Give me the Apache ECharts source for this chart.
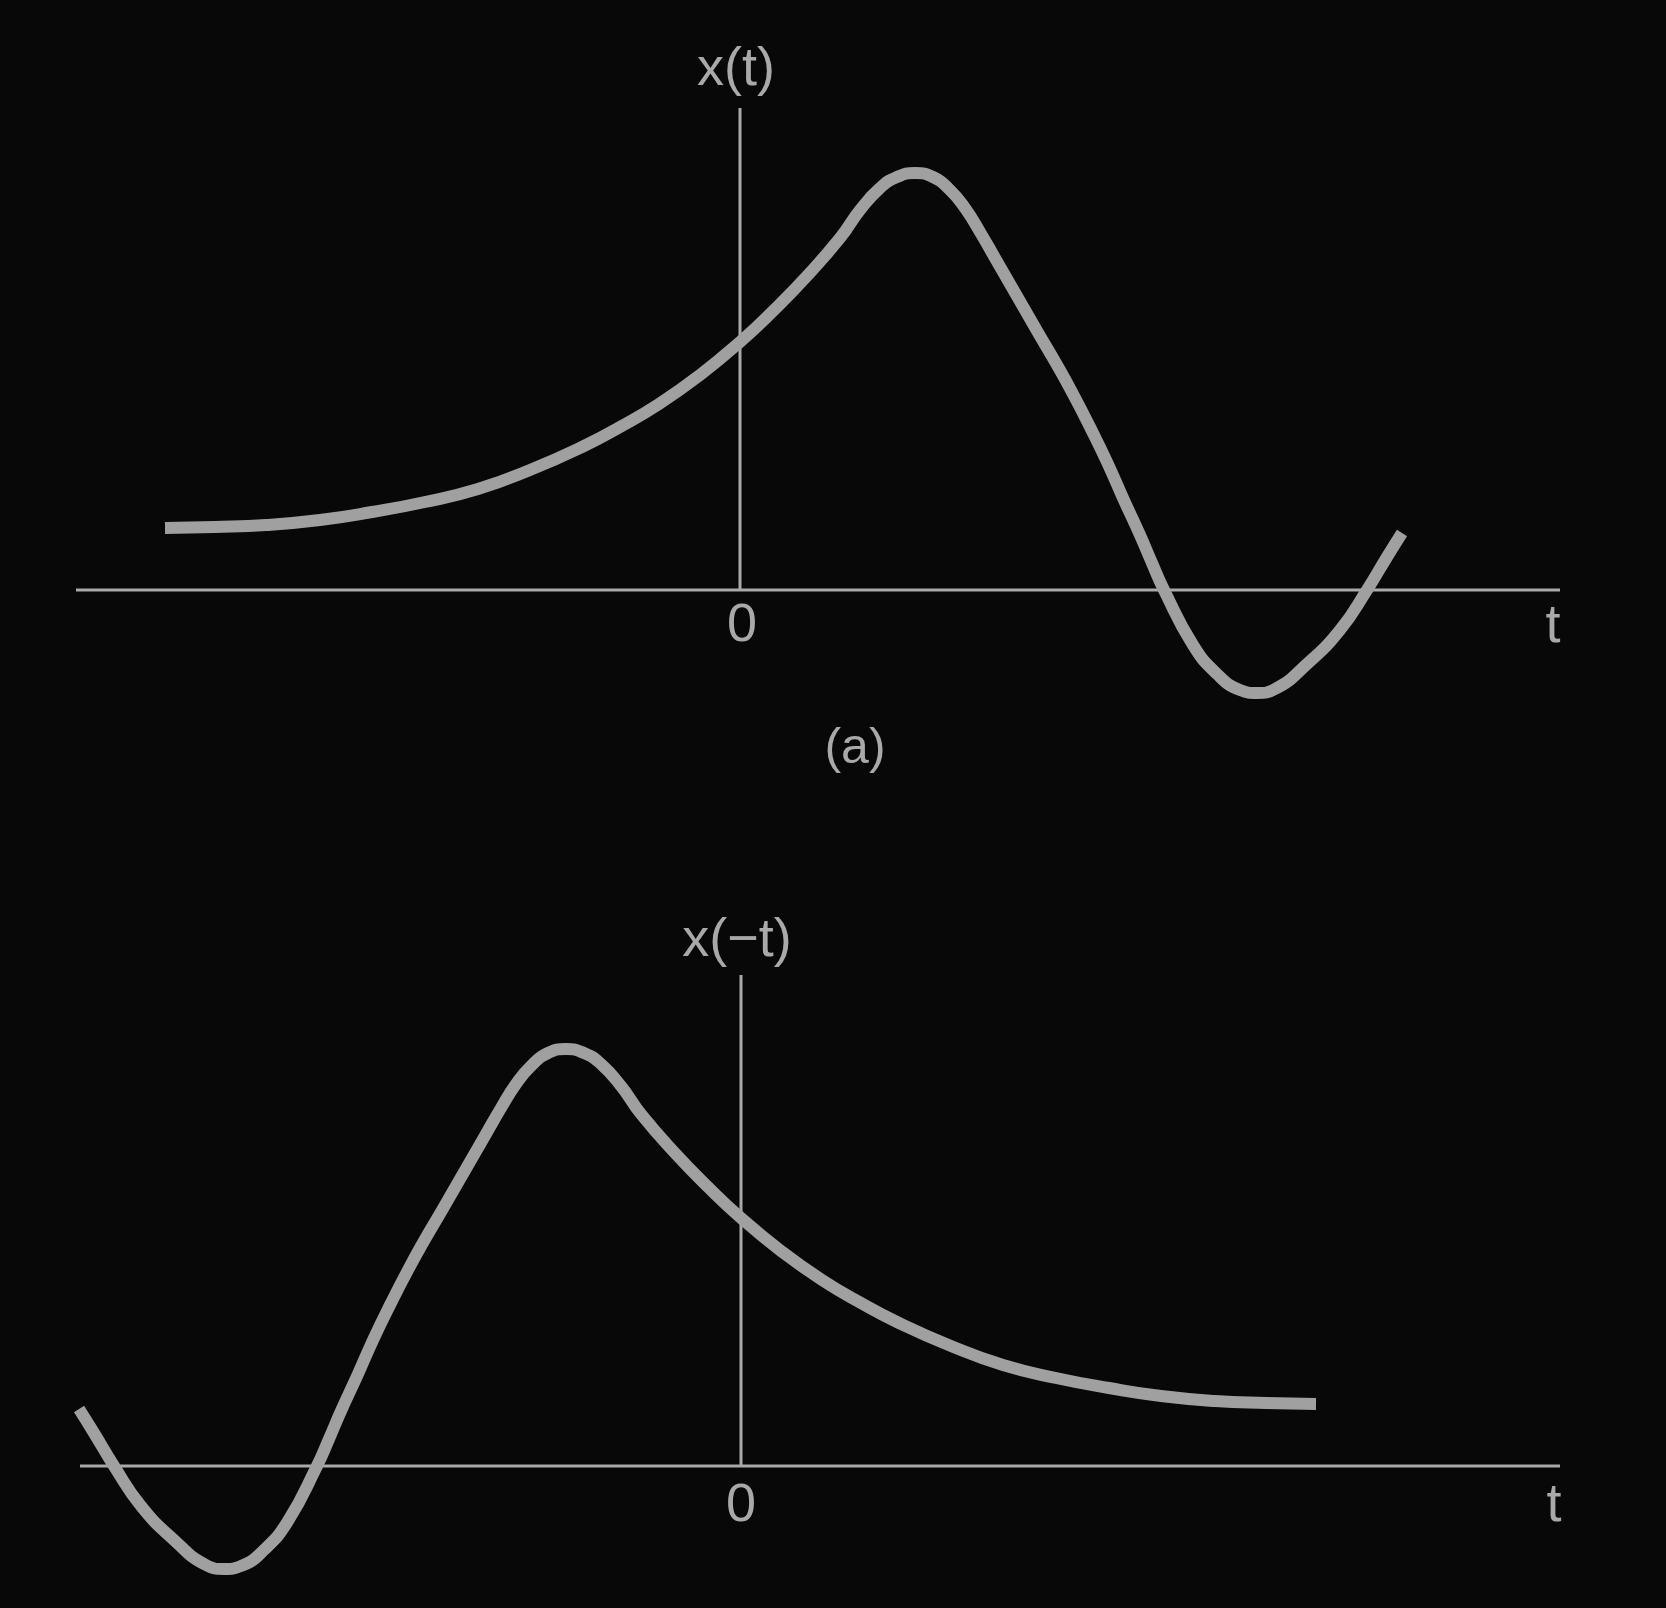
<!DOCTYPE html>
<html>
<head>
<meta charset="utf-8">
<script src="https://cdn.jsdelivr.net/npm/echarts@6/dist/echarts.min.js"></script>
<style>
html,body{margin:0;padding:0;background:#080808;}
#chart{width:1666px;height:1608px;}
</style>
</head>
<body>
<div id="chart"></div>
<script>
const tTop = [-5.75, -5.25, -4.74, -4.20, -3.68, -3.15, -2.62, -2.10, -1.56, -1.20, -0.81, -0.40, 0, 0.33, 0.67, 1.00, 1.20, 1.40, 1.57, 1.75, 1.93, 2.10, 2.25, 2.40, 2.55, 2.70, 2.85, 3.00, 3.17, 3.33, 3.50, 3.67, 3.83, 4.00, 4.12, 4.24, 4.53, 4.77, 5.00, 5.17, 5.35, 5.67, 6.00, 6.27, 6.47, 6.62];
const xTop = [0.62, 0.63, 0.65, 0.70, 0.78, 0.88, 1.01, 1.20, 1.44, 1.63, 1.86, 2.15, 2.48, 2.79, 3.14, 3.52, 3.80, 4.02, 4.13, 4.17, 4.13, 4.00, 3.82, 3.58, 3.32, 3.06, 2.80, 2.54, 2.25, 1.96, 1.63, 1.28, 0.92, 0.55, 0.27, 0, -0.55, -0.84, -1.00, -1.03, -0.99, -0.74, -0.40, 0, 0.33, 0.57];
// x(-t): the reflected signal
const tBot = [-6.62, -6.47, -6.27, -6.00, -5.67, -5.35, -5.17, -5.00, -4.77, -4.53, -4.24, -4.12, -4.00, -3.83, -3.67, -3.50, -3.33, -3.17, -3.00, -2.85, -2.70, -2.55, -2.40, -2.25, -2.10, -1.93, -1.75, -1.57, -1.40, -1.20, -1.00, -0.67, -0.33, 0, 0.40, 0.81, 1.20, 1.56, 2.10, 2.62, 3.15, 3.68, 4.20, 4.74, 5.25, 5.75];
const xBot = [0.57, 0.33, 0, -0.40, -0.74, -0.99, -1.03, -1.00, -0.84, -0.55, 0, 0.27, 0.55, 0.92, 1.28, 1.63, 1.96, 2.25, 2.54, 2.80, 3.06, 3.32, 3.58, 3.82, 4.00, 4.13, 4.17, 4.13, 4.02, 3.80, 3.52, 3.14, 2.79, 2.48, 2.15, 1.86, 1.63, 1.44, 1.20, 1.01, 0.88, 0.78, 0.70, 0.65, 0.63, 0.62];
// axis extents
const topX = [-6.64, 8.20], topY = [-1.2, 4.82];
const botX = [-6.61, 8.19], botY = [-1.2, 4.91];
const labels = {top: 'x(t)', bottom: 'x(\u2212t)', zero: '0', t: 't', caption: '(a)'};

const curveColor = '#a0a0a0';
const axisColor = '#a9a9a9';
const font = '"Liberation Sans", Arial, sans-serif';

function pairs(ts, vs){ return ts.map((t,i)=>[t, vs[i]]); }

const chart = echarts.init(document.getElementById('chart'), null, {renderer:'canvas'});

function axisSeries(idx, xr, yr){
  return [
    {type:'line', xAxisIndex:idx, yAxisIndex:idx, data:[[xr[0],0],[xr[1],0]], symbol:'none', silent:true, animation:false,
     lineStyle:{color:axisColor, width:3}, z:1},
    {type:'line', xAxisIndex:idx, yAxisIndex:idx, data:[[0,0],[0,yr[1]]], symbol:'none', silent:true, animation:false,
     lineStyle:{color:axisColor, width:3}, z:1}
  ];
}
function curveSeries(idx, ts, vs){
  return {type:'line', xAxisIndex:idx, yAxisIndex:idx, data:pairs(ts, vs), symbol:'none', smooth:0.5, silent:true, animation:false,
    lineStyle:{color:curveColor, width:12, cap:'butt', join:'round'}, z:3};
}
function txt(x, y, s, size){
  return {type:'text', x:x, y:y, style:{text:s, fill:axisColor, font:'normal ' + size + 'px ' + font, textAlign:'center', textVerticalAlign:'middle'}};
}

const hidden = {show:false};
chart.setOption({
  backgroundColor:'#080808',
  animation:false,
  grid:[
    {left:76, width:1484, top:108, height:602},
    {left:80, width:1480, top:975, height:611}
  ],
  xAxis:[
    {type:'value', gridIndex:0, min:topX[0], max:topX[1], axisLine:hidden, axisTick:hidden, axisLabel:hidden, splitLine:hidden},
    {type:'value', gridIndex:1, min:botX[0], max:botX[1], axisLine:hidden, axisTick:hidden, axisLabel:hidden, splitLine:hidden}
  ],
  yAxis:[
    {type:'value', gridIndex:0, min:topY[0], max:topY[1], axisLine:hidden, axisTick:hidden, axisLabel:hidden, splitLine:hidden},
    {type:'value', gridIndex:1, min:botY[0], max:botY[1], axisLine:hidden, axisTick:hidden, axisLabel:hidden, splitLine:hidden}
  ],
  series:[
    ...axisSeries(0, topX, topY),
    ...axisSeries(1, botX, botY),
    curveSeries(0, tTop, xTop),
    curveSeries(1, tBot, xBot)
  ],
  graphic:[
    txt(736, 70, labels.top, 54),
    txt(742, 626, labels.zero, 54),
    txt(1553, 627, labels.t, 54),
    txt(855, 749, labels.caption, 50),
    txt(737, 941, labels.bottom, 54),
    txt(741, 1506, labels.zero, 54),
    txt(1554, 1506, labels.t, 54)
  ]
});
</script>
</body>
</html>
